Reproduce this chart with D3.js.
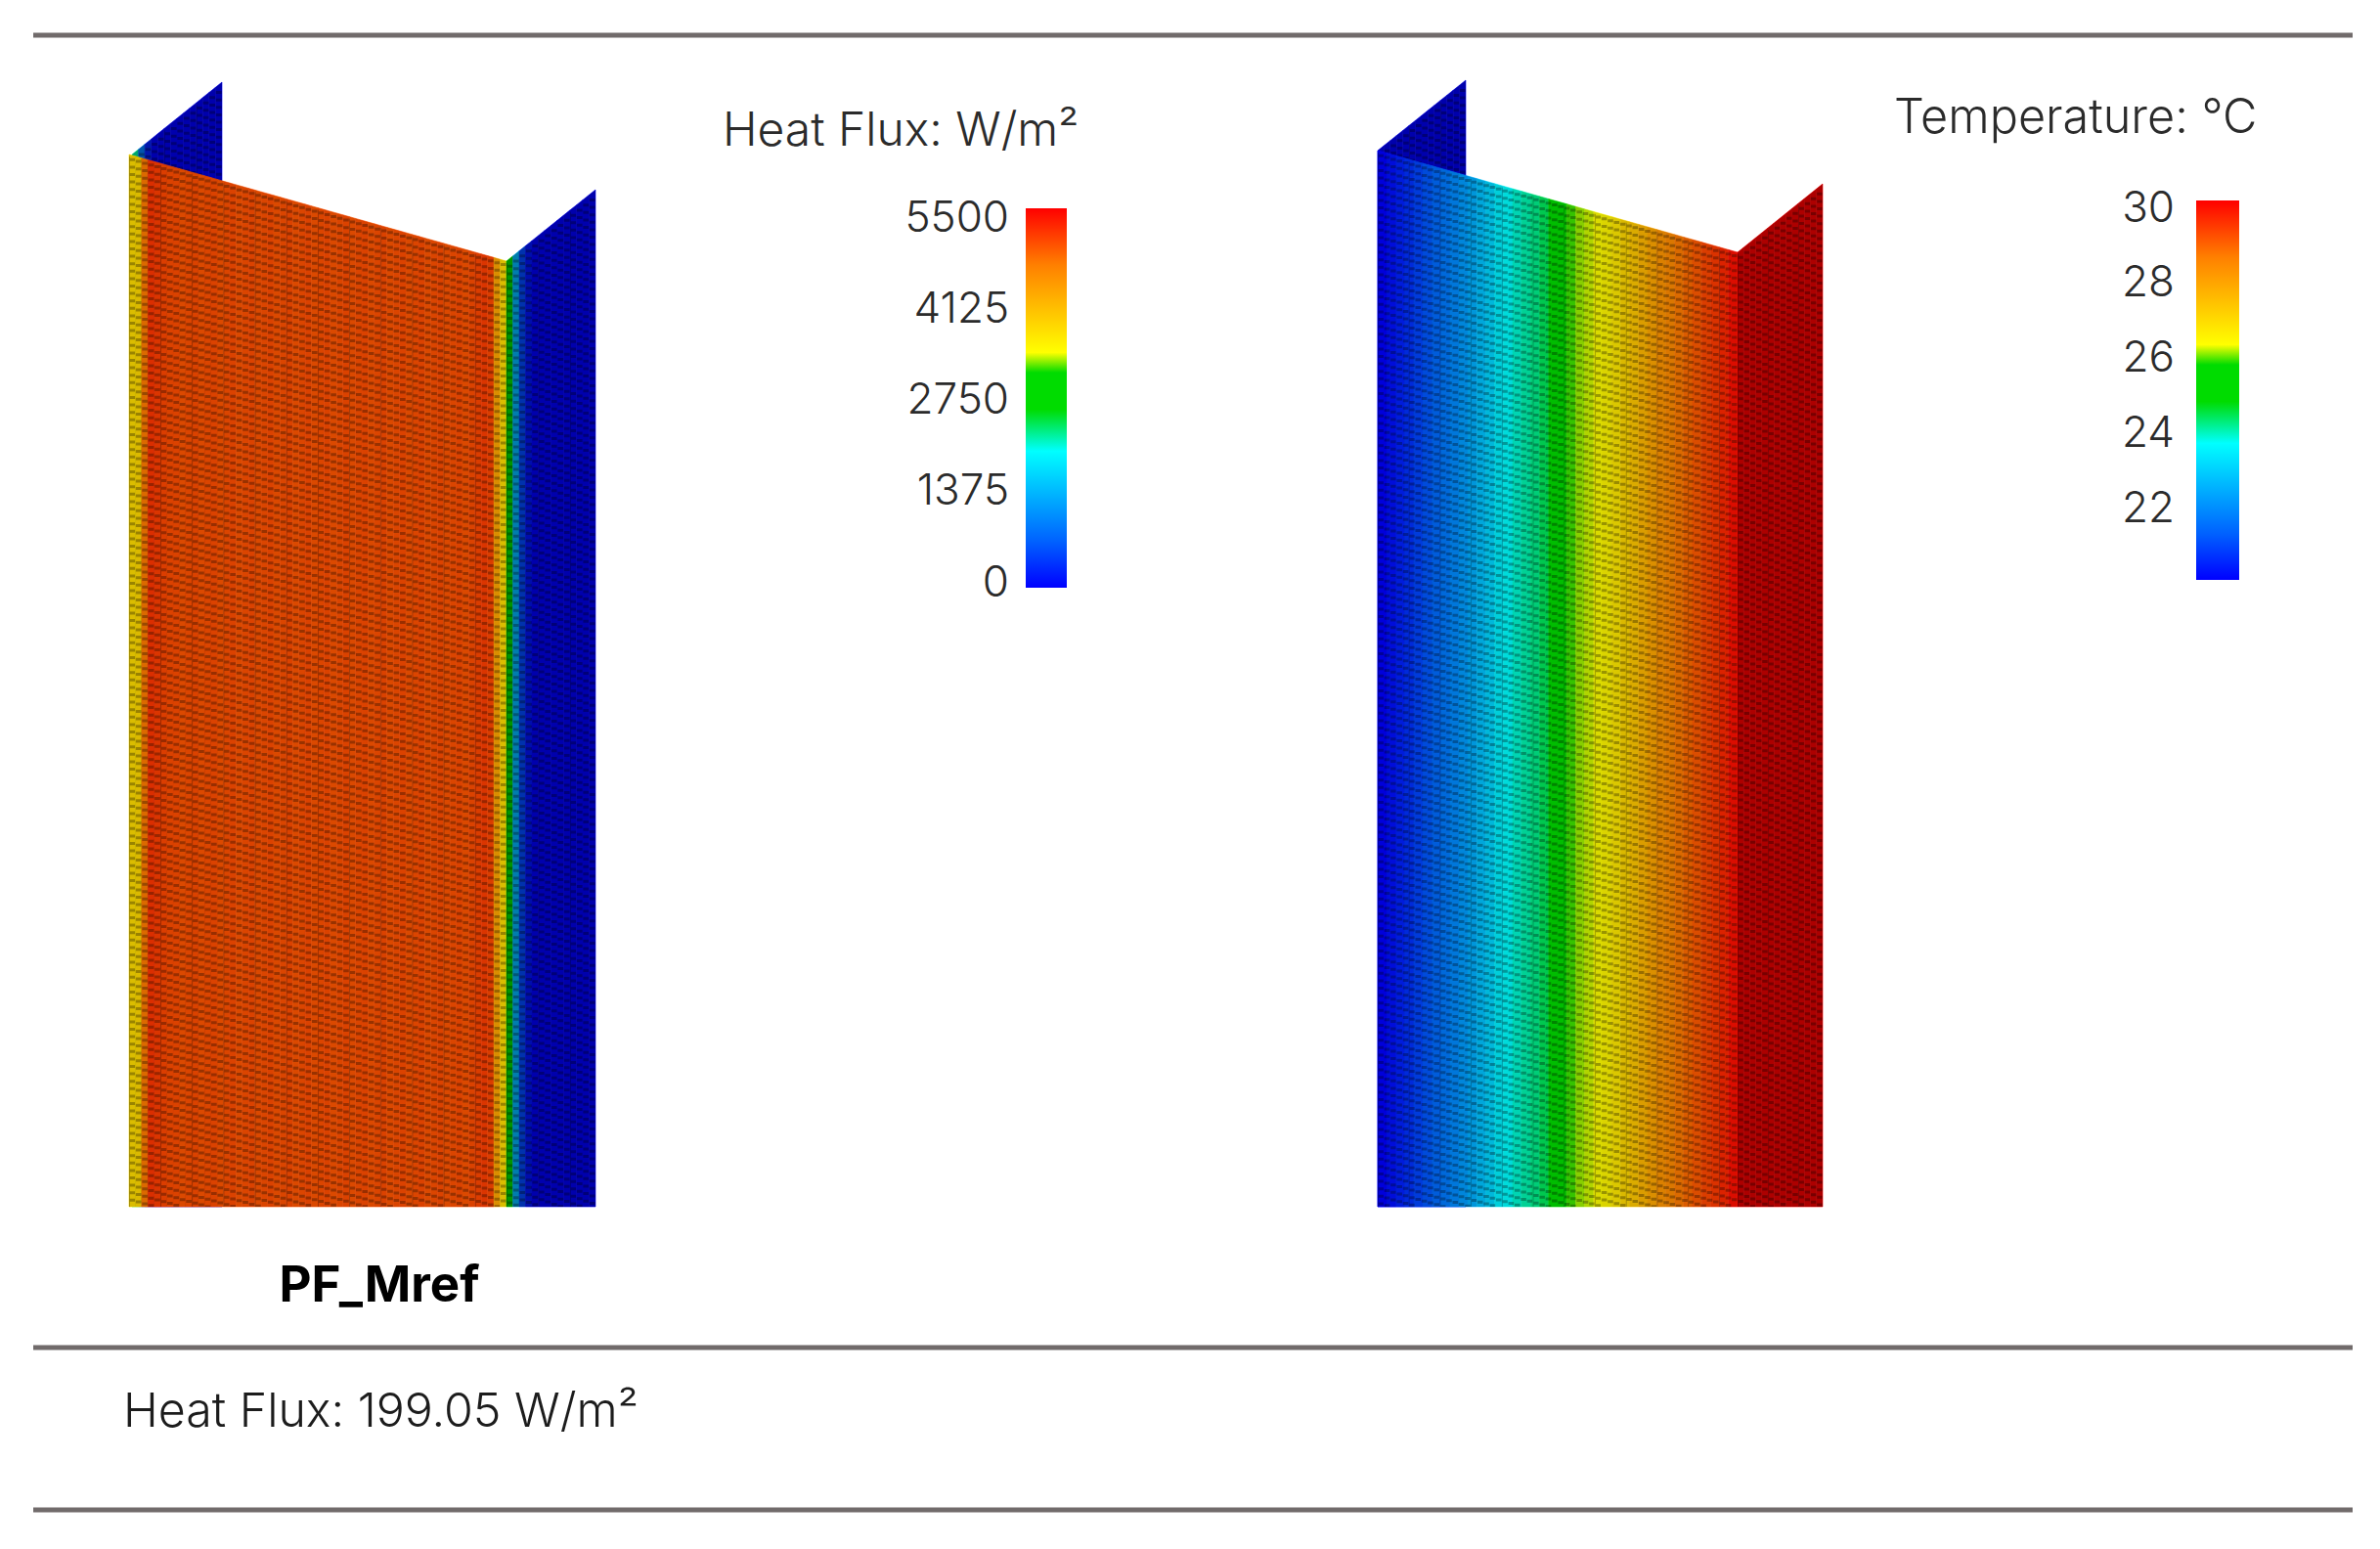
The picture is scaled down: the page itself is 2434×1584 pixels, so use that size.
<!DOCTYPE html>
<html>
<head>
<meta charset="utf-8">
<script src="https://cdn.jsdelivr.net/npm/d3@7"></script>
<style>
    html, body { margin: 0; padding: 0; background: #fff; }
    text { font-family: Inter, "Noto Sans", sans-serif; }
</style>
</head>
<body>
<div id="chart"></div>
<script>
//==================================//
// Data
//

const fluxTicks = [0, 1375, 2750, 4125, 5500]
const tempTicks = [22, 24, 26, 28, 30]

// colour bar: position 0..1 and colour
const barStops = [0, 0.12, 0.36, 0.47, 0.567, 0.62, 0.85, 1]
const barColors = ['#0000ff', '#0060ff', '#00ffff', '#00dc00', '#00dc00', '#ffff00', '#ff8000', '#ff0000']

// W/m2 along each face, one value per mesh strip
const fluxBack = [2200, 900, 250, 60, 0, 0, 0, 0, 0, 0, 0, 0, 0, 0]
const fluxWeb = [3750, 3800, 4700, 5150, 5100, 5050, 5000, 5000, 4950, 4980, 5000, 4950, 4980, 5000, 4950,
    4980, 5000, 4950, 4980, 5000, 4950, 4980, 5000, 4950, 4980, 5000, 4950, 4980, 5000, 4950,
    4980, 5000, 4950, 4980, 5000, 4950, 4980, 5000, 4950, 4980, 5000, 4950, 4980, 5000, 4950,
    4980, 5000, 4950, 4980, 5000, 4950, 4980, 5000, 4950, 5000, 5050, 5100, 5050, 4300, 3750]
const fluxFlange = [2800, 1400, 500, 120, 30, 0, 0, 0, 0, 0, 0, 0, 0, 0]

// deg C along each face
const tempBack = [20, 20, 20, 20, 20, 20, 20, 20, 20, 20, 20, 20, 20, 20]
const tempWeb = [20.0, 20.2, 20.45, 20.65, 20.85, 21.1, 21.35, 21.6, 21.85, 22.1,
    22.4, 22.7, 23.0, 23.4, 23.6, 23.8, 23.95, 24.1, 24.3, 24.7,
    25.3, 25.8, 26.0, 26.1, 26.2, 26.35, 26.6, 26.9, 27.2, 27.5,
    27.8, 28.1, 28.3, 28.55, 28.75, 28.95, 29.15, 29.3, 29.5, 29.8]
const tempFlange = [30, 30, 30, 30, 30, 30, 30, 30, 30, 30, 30, 30, 30, 30]


//==================================//
// Layout
//

const svgw = 2434, svgh = 1584
const meshBottom = 1234
const meshw = 6.4, meshh = 7.6

const svg = d3.select('#chart').append('svg')
    .attr('width', svgw)
    .attr('height', svgh)
    .style('display', 'block')

const defs = svg.append('defs')
defs.append('filter').attr('id', 'soft')
    .append('feGaussianBlur').attr('stdDeviation', 0.6)

const barColor = d3.scaleLinear().domain(barStops).range(barColors).clamp(true)

//====[ rules ]====//

svg.selectAll('line.rule')
    .data([36, 1378, 1544])
    .enter().append('line')
    .classed('rule', true)
    .attr('x1', 34).attr('x2', 2406)
    .attr('y1', d => d).attr('y2', d => d)
    .attr('stroke', '#716b6b')
    .attr('stroke-width', 5)


//==================================//
// Mesh faces
//

function drawFace(parent, values, colorOf, x0, x1, y0, y1, shade) {
    const g = parent.append('g')
    const n = values.length
    const x = d3.scaleLinear().domain([0, n]).range([x0, x1])
    const top = d3.scaleLinear().domain([x0, x1]).range([y0, y1])

    g.selectAll('path.strip')
        .data(values)
        .enter().append('path')
        .classed('strip', true)
        .attr('d', (d, i) => {
            const a = x(i), b = x(i + 1)
            return 'M' + a + ',' + top(a) + 'L' + b + ',' + top(b) +
                'L' + b + ',' + meshBottom + 'L' + a + ',' + meshBottom + 'Z'
        })
        .attr('fill', d => colorOf(d))
        .attr('stroke', d => colorOf(d))
        .attr('stroke-width', 0.6)

    // face shading
    g.append('path')
        .attr('d', 'M' + x0 + ',' + y0 + 'L' + x1 + ',' + y1 + 'L' + x1 + ',' + meshBottom + 'L' + x0 + ',' + meshBottom + 'Z')
        .attr('fill', '#000')
        .attr('opacity', shade)

    // cell texture, stepped column by column along the top edge
    const cols = d3.range(Math.round((x1 - x0) / meshw))
    const colw = (x1 - x0) / cols.length
    g.selectAll('path.mesh')
        .data(cols)
        .enter().append('path')
        .classed('mesh', true)
        .attr('d', c => {
            const a = x0 + c * colw
            const p = d3.path()
            const t = top(a)
            for (let y = t + meshh * 0.5; y < meshBottom - 1.5; y += meshh) {
                p.rect(a + 0.4, y, colw - 0.8, Math.min(3, meshBottom - y))
            }
            if (c % 5 === 0) p.rect(a, t + 2, 0.8, meshBottom - t - 2)
            return p.toString()
        })
        .attr('fill', '#000')
        .attr('opacity', 0.3)
}

const fluxColor = v => barColor(v / 5500)
const tempColor = v => barColor((v - 20) / 10)

const leftShape = svg.append('g').attr('filter', 'url(#soft)')
drawFace(leftShape, fluxBack, fluxColor, 135, 227, 158, 84, 0.32)
drawFace(leftShape, fluxWeb, fluxColor, 132, 518, 158, 267, 0.14)
drawFace(leftShape, fluxFlange, fluxColor, 518, 609, 267, 194, 0.32)

const rightShape = svg.append('g').attr('filter', 'url(#soft)')
drawFace(rightShape, tempBack, tempColor, 1409, 1499, 154, 82, 0.32)
drawFace(rightShape, tempWeb, tempColor, 1409, 1777, 154, 258, 0.14)
drawFace(rightShape, tempFlange, tempColor, 1777, 1864, 258, 188, 0.32)


//==================================//
// Colour bars
//

function drawBar(id, x, y, w, h, ticks, domain, labelRange, labelx) {
    const grad = defs.append('linearGradient').attr('id', id)
        .attr('x1', 0).attr('x2', 0).attr('y1', 1).attr('y2', 0)
    grad.selectAll('stop')
        .data(barStops)
        .enter().append('stop')
        .attr('offset', d => d)
        .attr('stop-color', (d, i) => barColors[i])

    svg.append('rect')
        .attr('x', x).attr('y', y)
        .attr('width', w).attr('height', h)
        .attr('fill', 'url(#' + id + ')')

    const scale = d3.scaleLinear().domain(domain).range(labelRange)
    const axis = svg.append('g')
        .attr('transform', 'translate(' + labelx + ',0)')
        .call(d3.axisLeft(scale).tickValues(ticks).tickSize(0).tickPadding(0).tickFormat(d3.format('d')))
    axis.select('.domain').remove()
    axis.selectAll('text')
        .attr('font-size', 44)
        .attr('font-weight', 300)
        .attr('fill', '#2b2b2b')
        .style('font-family', 'Inter')
}

drawBar('fluxBar', 1049, 213, 42, 388, fluxTicks, [0, 5500], [595, 222], 1032)
drawBar('tempBar', 2246, 205, 44, 388, tempTicks, [20, 30], [596.5, 212], 2224)


//==================================//
// Text
//

const labels = [
    { t: 'Heat Flux: W/m²', x: 739, y: 149, size: 48, weight: 300, anchor: 'start', fill: '#2b2b2b' },
    { t: 'Temperature: °C', x: 1937, y: 136, size: 48.6, weight: 300, anchor: 'start', fill: '#2b2b2b' },
    { t: 'PF_Mref', x: 388, y: 1331, size: 51, weight: 700, anchor: 'middle', fill: '#000' },
    { t: 'Heat Flux: 199.05 W/m²', x: 126, y: 1459, size: 48.3, weight: 300, anchor: 'start', fill: '#1c1c1c' }
]

svg.selectAll('text.label')
    .data(labels)
    .enter().append('text')
    .classed('label', true)
    .attr('x', d => d.x)
    .attr('y', d => d.y)
    .attr('font-size', d => d.size)
    .attr('font-weight', d => d.weight)
    .attr('text-anchor', d => d.anchor)
    .attr('fill', d => d.fill)
    .text(d => d.t)
</script>
</body>
</html>
